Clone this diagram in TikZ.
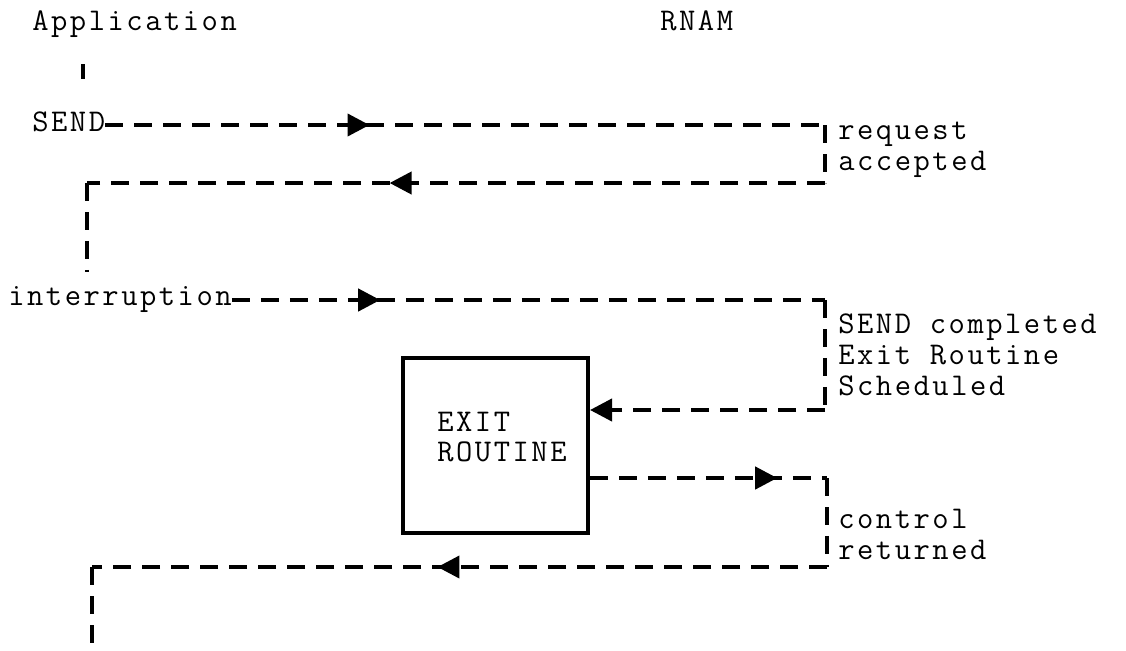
\documentclass[tikz,border=0pt]{standalone}
\usepackage{fontspec}
\setmainfont{Latin Modern Mono}[LetterSpace=8]
\usetikzlibrary{arrows.meta,positioning,decorations.markings}

\begin{document}
\begin{tikzpicture}[x=0.02cm,y=-0.02cm,
  lbl/.style={font=\fontsize{18}{17.6}\selectfont,inner sep=0pt,anchor=base west,align=left},
  flow/.style={line width=2.3pt,dash pattern=on 0.36cm off 0.22cm},
  midarr/.style={postaction={decorate},decoration={markings,
    mark=at position #1 with {\arrow{Triangle[length=0.44cm,width=0.44cm]}}}},
  routine/.style={draw,line width=2.3pt,minimum width=3.7cm,minimum height=3.5cm}
]
  \useasboundingbox (0,0) rectangle (1126,650);

  % Column heads
  \node[lbl] (app) at (32,30) {Application};
  \node[lbl] (rnam) at (660,30) {RNAM};
  \coordinate (l1) at (83,64);
  \coordinate (l2) at (83,79);
  \draw[flow] (l1) -- (l2);

  % SEND request
  \node[lbl] (send) at (32,131) {SEND};
  \coordinate (c1) at (825,125);
  \coordinate (c2) at (825,183);
  \coordinate (c3) at (87,183);
  \coordinate (c4) at (87,272);
  \draw[flow,midarr=0.367] (send.east |- c1) -- (c1);
  \draw[flow] (c1) -- (c2);
  \draw[flow,midarr=0.59] (c2) -- (c3);
  \draw[flow] (c3) -- (c4);
  \node[lbl] (acc) at (838,170) {request\\accepted};

  % Interruption
  \node[lbl] (intr) at (8,305) {interruption};
  \coordinate (c5) at (825,300);
  \coordinate (c6) at (825,410);
  \draw[flow,midarr=0.25] (intr.east |- c5) -- (c5);
  \draw[flow] (c5) -- (c6);
  \node[lbl] (done) at (838,395) {SEND completed\\Exit Routine\\Scheduled};

  % Exit routine
  \node[routine] (exit) at (495.5,445.5) {};
  \node[lbl,anchor=west] (exittxt) at (437,437) {EXIT\\ROUTINE};
  \draw[flow,-{Triangle[length=0.44cm,width=0.44cm]}] (c6) -- (c6 -| exit.east);

  % Control returned
  \coordinate (c7) at (827,478);
  \coordinate (c8) at (827,567);
  \coordinate (c9) at (92,567);
  \coordinate (c10) at (92,650);
  \draw[flow,midarr=0.79] (c7 -| exit.east) -- (c7);
  \draw[flow] (c7) -- (c8);
  \draw[flow,midarr=0.53] (c8) -- (c9);
  \draw[flow] (c9) -- (c10);
  \node[lbl] (ret) at (838,559) {control\\returned};
\end{tikzpicture}
\end{document}
